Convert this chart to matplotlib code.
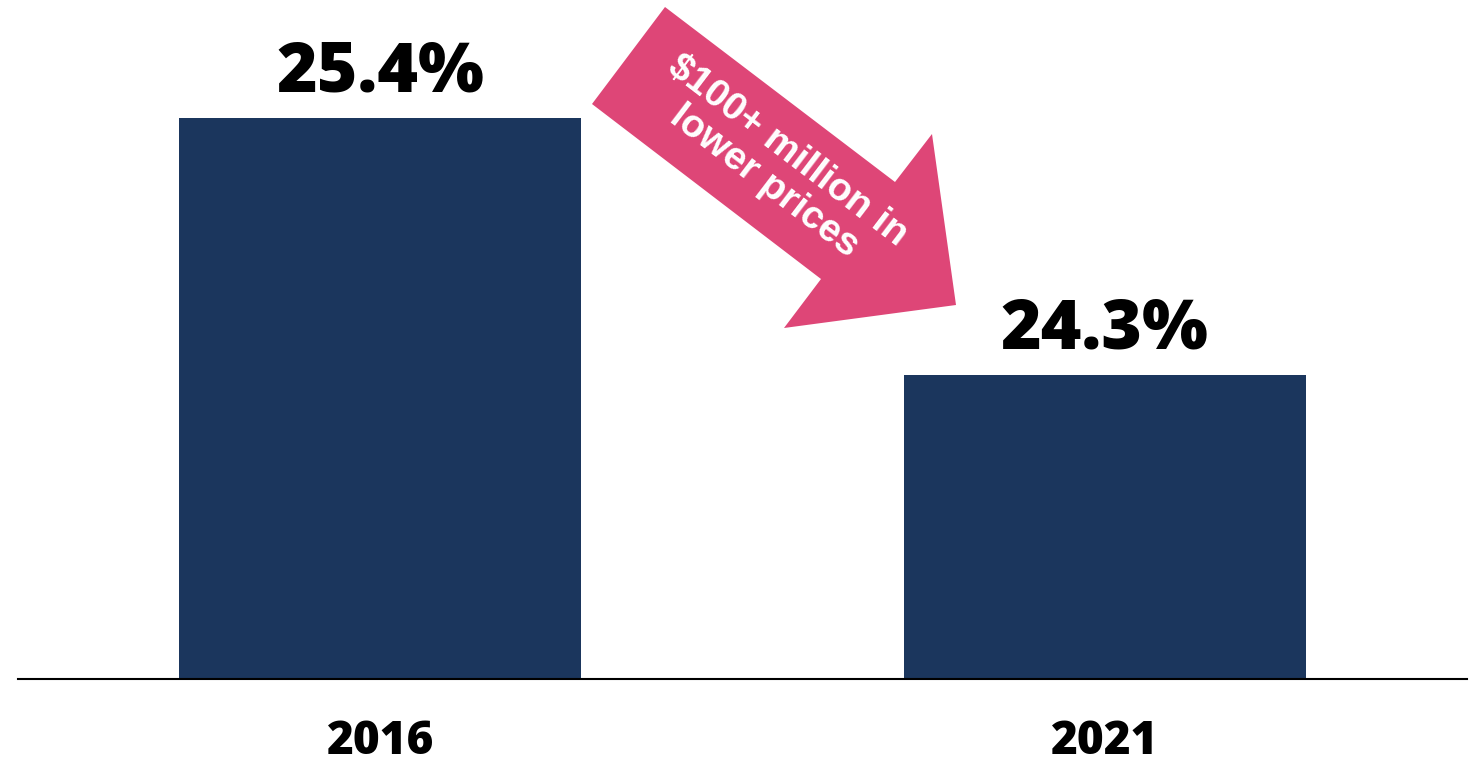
import matplotlib
matplotlib.use("Agg")
import matplotlib.pyplot as plt
from matplotlib.patches import Polygon

years = ["2016", "2021"]
values = [25.4, 24.3]
value_labels = ["25.4%", "24.3%"]
arrow_text = "$100+ million in\nlower prices"

BAR = "#1B365D"
PINK = "#DE4677"
W, H = 1478, 767

fig = plt.figure(figsize=(W / 100, H / 100), dpi=100)
ax = fig.add_axes([18 / W, 1 - 679 / H, (1467 - 18) / W, 679 / H])

x = list(range(len(years)))
bars = ax.bar(x, values, width=0.555, color=BAR, zorder=2)
ax.set_xlim(-0.5, 1.5)
ax.set_ylim(23.0, 25.907)

for xi, v, lab in zip(x, values, value_labels):
    ax.annotate(lab, (xi, v), xytext=(0, 7), textcoords="offset points",
                ha="center", va="bottom", fontsize=50, fontweight="heavy",
                family="Open Sans", color="black")

ax.set_xticks(x)
ax.set_xticklabels(years, fontsize=33, fontweight="heavy", family="Open Sans")
ax.tick_params(axis="x", length=0, pad=29)
ax.set_yticks([])
for s in ["top", "left", "right"]:
    ax.spines[s].set_visible(False)
ax.spines["bottom"].set_linewidth(1.5)
ax.spines["bottom"].set_color("black")

# Decorative arrow (figure pixel coordinates, y from top)
pts = [(665, 7), (895, 182), (932, 134), (956, 305), (784, 328), (821, 279), (592, 104)]
poly = Polygon([(px / W, 1 - py / H) for px, py in pts], closed=True,
               transform=fig.transFigure, facecolor=PINK, edgecolor="none", zorder=3)
fig.patches.append(poly)
fig.text(776 / W, 1 - 166 / H, arrow_text, rotation=-37.3, rotation_mode="anchor",
         ha="center", va="center", multialignment="center", color="white",
         fontsize=28, fontweight="bold", family="Liberation Sans", linespacing=1.08,
         zorder=4)

fig.savefig("out.png", dpi=100)
